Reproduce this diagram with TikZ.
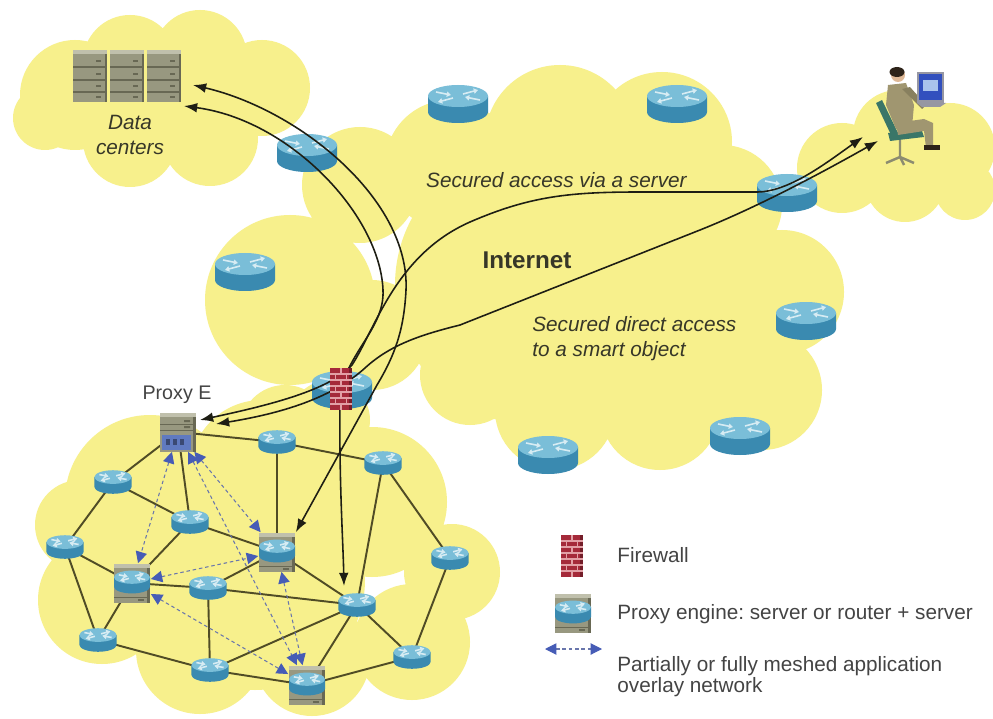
\documentclass[tikz,border=0pt]{standalone}
\usepackage{fontspec}
\setmainfont{Liberation Sans}
\usetikzlibrary{arrows.meta}
\frenchspacing

\definecolor{cloudfill}{RGB}{247,240,140}
\definecolor{routertop}{RGB}{122,190,216}
\definecolor{routerside}{RGB}{58,138,176}
\definecolor{cabinet}{RGB}{152,152,128}
\definecolor{cabinettop}{RGB}{192,192,172}
\definecolor{cabinetdark}{RGB}{104,104,84}
\definecolor{portblue}{RGB}{96,122,192}
\definecolor{brick}{RGB}{165,42,58}
\definecolor{mortar}{RGB}{226,160,166}
\definecolor{meshline}{RGB}{80,76,38}
\definecolor{flowline}{RGB}{30,30,20}
\definecolor{meshdash}{RGB}{105,118,172}
\definecolor{meshtip}{RGB}{70,92,182}
\definecolor{textdark}{RGB}{55,55,40}
\definecolor{legendgray}{RGB}{68,68,68}
\definecolor{suit}{RGB}{160,150,112}
\definecolor{chair}{RGB}{58,118,104}
\definecolor{chairleg}{RGB}{140,140,112}
\definecolor{skin}{RGB}{222,184,150}
\definecolor{hair}{RGB}{45,35,25}
\definecolor{screen}{RGB}{50,80,190}
\definecolor{screenlight}{RGB}{170,196,236}
\definecolor{laptop}{RGB}{150,150,162}

% icons, drawn in pixel units around their centre
\tikzset{
  router/.pic={
    \fill[routerside] (-30,-8) -- (-30,8) arc[start angle=180,end angle=0,x radius=30,y radius=11] -- (30,-8) -- cycle;
    \fill[routertop] (0,-8) ellipse[x radius=30,y radius=11];
    \begin{scope}[white!70!routertop,line width=0.9pt,-{Triangle[length=2.4pt,width=3pt]}]
      \draw (-22,-12) -- (-7,-9);
      \draw (22,-4) -- (7,-7);
      \draw (5,-10) -- (20,-14);
      \draw (-5,-6) -- (-20,-2);
    \end{scope}
  },
  proxy/.pic={
    \fill[cabinet] (-18,-19) rectangle (18,20);
    \fill[cabinettop] (-18,-19) rectangle (18,-15);
    \fill[cabinetdark] (15,-15) rectangle (18,20);
    \draw[cabinetdark,line width=0.5pt] (-18,14) -- (15,14);
    \fill[cabinetdark] (6,16) rectangle (12,18);
    \pic[scale=0.6] at (0,-1) {router};
  },
  proxyserver/.pic={
    \fill[cabinet] (-18,-19) rectangle (18,20);
    \fill[cabinettop] (-18,-19) rectangle (18,-15);
    \fill[cabinetdark] (15,-15) rectangle (18,20);
    \draw[cabinetdark,line width=0.5pt] (-18,-8) -- (15,-8) (-18,-2) -- (15,-2);
    \fill[cabinetdark] (6,-12) rectangle (12,-10) (6,-6) rectangle (12,-4);
    \fill[portblue] (-16,3) rectangle (13,18);
    \foreach \x in {-12,-5,2} \fill[portblue!60!black] (\x,7) rectangle (\x+4,13);
  },
  rack/.pic={
    \fill[cabinet] (-17,-26) rectangle (17,26);
    \fill[cabinettop] (-17,-26) rectangle (17,-22);
    \fill[cabinetdark] (15,-22) rectangle (17,26);
    \foreach \y in {-9,4,16} \draw[cabinetdark,line width=0.6pt] (-17,\y) -- (15,\y);
    \foreach \y in {-15,-2,10,21} \fill[cabinetdark] (6,\y-1) rectangle (11,\y+1);
  },
  firewall/.pic={
    \fill[brick] (-11,-21) rectangle (11,21);
    \fill[brick!70!black] (8,-21) rectangle (11,21);
    \begin{scope}[mortar,line width=0.6pt]
      \foreach \y in {-15,-9,-3,3,9,15} \draw (-11,\y) -- (11,\y);
      \foreach \y in {-21,-9,3,15} \draw (0,\y) -- (0,\y+6);
      \foreach \y in {-15,-3,9} \draw (-5.5,\y) -- (-5.5,\y+6) (5.5,\y) -- (5.5,\y+6);
    \end{scope}
  },
  user/.pic={
    % chair
    \draw[chairleg,line width=1.4pt] (0,25) -- (0,42) (-14,48) -- (0,42) -- (14,48) (0,42) -- (4,50);
    \fill[chair] (-12,18) -- (22,16) -- (24,22) -- (-10,26) -- cycle;
    \fill[chair] (-24,-12) -- (-18,-15) -- (-2,18) -- (-8,22) -- cycle;
    % legs and shoes
    \fill[suit] (-4,8) -- (24,4) -- (33,8) -- (33,32) -- (26,33) -- (24,16) -- (-2,20) -- cycle;
    \fill[hair] (24,30) rectangle (40,35);
    % body, arm, head
    \fill[suit] (-12,-30) -- (6,-32) -- (14,-10) -- (12,12) -- (-4,14) -- (-14,-10) -- cycle;
    \fill[suit!85!black] (2,-26) -- (10,-28) -- (26,-10) -- (22,-6) -- cycle;
    \fill[skin] (-2,-40) circle[radius=7];
    \fill[hair] (-3,-43) ellipse[x radius=7.5,y radius=5];
    % laptop
    \fill[laptop] (17,-43) rectangle (44,-12);
    \fill[screen] (19,-41) rectangle (42,-15);
    \fill[screenlight] (23,-35) rectangle (38,-24);
    \fill[laptop] (17,-12) -- (46,-12) -- (40,-8) -- (22,-8) -- cycle;
  }
}

\begin{document}
\begin{tikzpicture}[x=0.02cm,y=-0.02cm,
    link/.style={draw=meshline,line width=1.1pt},
    appmesh/.style={draw=meshdash,line width=0.6pt,dash pattern=on 2pt off 1.6pt,
      arrows={Triangle[length=6.5pt,width=6.5pt,color=meshtip]-Triangle[length=6.5pt,width=6.5pt,color=meshtip]}},
    flow/.style={draw=flowline,line width=0.9pt,
      arrows={Latex[length=7.5pt,width=5.5pt]-Latex[length=7.5pt,width=5.5pt]}},
    spot/.style={inner sep=0pt,minimum width=0.76cm,minimum height=0.48cm},
    proxyspot/.style={inner sep=0pt,minimum width=0.74cm,minimum height=0.78cm},
    cloudtext/.style={text=textdark,font=\fontsize{11.8}{14.2}\selectfont\itshape},
    legendtext/.style={text=legendgray,font=\fontsize{11.8}{14.2}\selectfont,anchor=west,align=left,inner sep=0pt}]

\fill[white] (0,0) rectangle (993,719);
\useasboundingbox (0,0) rectangle (993,719);

% clouds
\fill[cloudfill] (75,95) circle[radius=55] (130,62) circle[radius=47] (200,57) circle[radius=47]
  (262,88) circle[radius=48] (210,138) circle[radius=48] (130,140) circle[radius=47]
  (45,118) circle[radius=32] (170,100) circle[radius=60];
\fill[cloudfill] (360,185) circle[radius=58] (450,165) circle[radius=65] (560,140) circle[radius=75]
  (662,142) circle[radius=70] (722,205) circle[radius=60] (782,292) circle[radius=62]
  (762,390) circle[radius=60] (660,410) circle[radius=60] (555,410) circle[radius=60]
  (470,375) circle[radius=50] (290,300) circle[radius=85] (372,335) circle[radius=55]
  (535,285) circle[radius=140] (660,290) circle[radius=100];
\fill[cloudfill] (150,500) circle[radius=85] (262,472) circle[radius=72] (285,430) circle[radius=45]
  (330,420) circle[radius=40] (372,502) circle[radius=75] (452,572) circle[radius=48]
  (412,642) circle[radius=58] (312,658) circle[radius=58] (200,650) circle[radius=64]
  (102,600) circle[radius=64] (80,525) circle[radius=45] (255,580) circle[radius=110];
\fill[cloudfill] (842,168) circle[radius=45] (898,135) circle[radius=45] (950,148) circle[radius=45]
  (905,182) circle[radius=40] (965,190) circle[radius=30];

% local network
\node[proxyspot] (pe) at (178,432) {};
\node[proxyspot] (p2) at (277,552) {};
\node[proxyspot] (p3) at (132,583) {};
\node[proxyspot] (p4) at (307,685) {};
\node[spot] (r1) at (277,442) {};
\node[spot] (r2) at (383,463) {};
\node[spot] (r3) at (113,482) {};
\node[spot] (r4) at (190,522) {};
\node[spot] (r5) at (65,547) {};
\node[spot] (r6) at (208,588) {};
\node[spot] (r7) at (450,558) {};
\node[spot] (r8) at (357,605) {};
\node[spot] (r9) at (98,640) {};
\node[spot] (r10) at (210,670) {};
\node[spot] (r11) at (412,657) {};

\foreach \a/\b in {pe/r1,r1/r2,pe/r3,pe/r4,r1/p2,r3/r5,r3/r4,r4/p2,r4/p3,r5/p3,r5/r9,p3/r9,
    p3/r6,r6/r8,r6/p2,p2/r8,r6/r10,r9/r10,r10/p4,r10/r8,r8/p4,r8/r11,r2/r8,r2/r7,r7/r11,r11/p4}
  \draw[link] (\a.center) -- (\b.center);

\foreach \a/\b in {pe/p3,pe/p2,pe/p4,p3/p2,p3/p4,p2/p4}
  \draw[appmesh] (\a) -- (\b);

\foreach \n in {r1,r2,r3,r4,r5,r6,r7,r8,r9,r10,r11}
  \pic[scale=0.62] at (\n) {router};
\foreach \n in {p2,p3,p4}
  \pic at (\n) {proxy};
\pic at (pe) {proxyserver};

% internet routers
\foreach \p in {(307,153),(458,104),(677,104),(245,272),(787,193),(806,321),(740,436),(548,455),(342,390)}
  \pic at \p {router};

% data centres and remote user
\foreach \x in {90,127,164}
  \pic at (\x,76) {rack};
\pic at (900,115) {user};

% secured accesses
\coordinate (dc-a) at (193,85);
\coordinate (dc-b) at (184,106);
\coordinate (user-a) at (863,137);
\coordinate (user-b) at (878,141);
\coordinate (pe-a) at (200,420);
\coordinate (pe-b) at (216,424);
\coordinate (r8-in) at (344,586);

\draw[flow] (dc-a) .. controls (300,110) and (410,200) .. (406,290)
  .. controls (404,330) and (395,355) .. (377,385) -- (p2.north east);
\draw[flow] (dc-b) .. controls (290,120) and (380,215) .. (383,290)
  .. controls (385,330) and (343,355) .. (340,400) .. controls (339,480) and (343,540) .. (r8-in);
\draw[flow] (pe-a) .. controls (270,405) and (330,390) .. (352,365)
  .. controls (375,330) and (395,255) .. (470,222) .. controls (530,196) and (570,192) .. (640,192)
  -- (757,192) .. controls (790,192) and (830,160) .. (user-a);
\draw[flow] (pe-b) .. controls (290,412) and (335,395) .. (365,368)
  .. controls (390,345) and (420,335) .. (460,325) -- (700,230)
  .. controls (745,212) and (800,185) .. (user-b);

\pic at (341,389) {firewall};

% labels
\node[cloudtext,align=center] (dctext) at (130,135) {Data\\centers};
\node[cloudtext,anchor=west] (viatext) at (420,180) {Secured access via a server};
\node[text=textdark,font=\fontsize{13.8}{16}\selectfont\bfseries] (inet) at (527,260) {Internet};
\node[cloudtext,anchor=north west,align=left,inner sep=0pt] (directtext) at (532,316)
  {Secured direct access\\to a smart object};
\node[text=legendgray,font=\fontsize{11.2}{13}\selectfont] (petext) at (177,395) {Proxy E};

% legend
\pic at (572,556) {firewall};
\node[legendtext] (fwtext) at (617,555) {Firewall};
\pic at (573,613) {proxy};
\node[legendtext] (proxytext) at (617,614) {Proxy engine: server or router + server};
\coordinate (leg-l) at (545,649);
\coordinate (leg-r) at (602,649);
\draw[appmesh] (leg-l) -- (leg-r);
\node[legendtext,anchor=north west,font=\fontsize{11.8}{12.2}\selectfont] (meshtext) at (617,656)
  {Partially or fully meshed application\\overlay network};
\end{tikzpicture}
\end{document}
